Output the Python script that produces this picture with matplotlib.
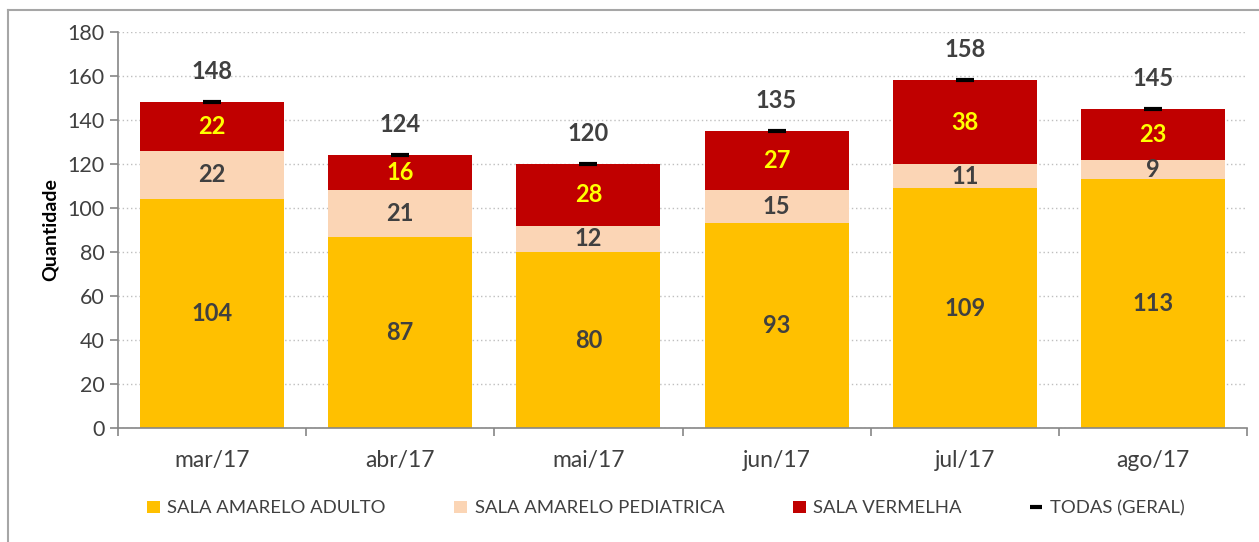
import matplotlib.pyplot as plt
from matplotlib.lines import Line2D

plt.rcParams['font.family'] = ['Lato', 'DejaVu Sans']

months = ['mar/17', 'abr/17', 'mai/17', 'jun/17', 'jul/17', 'ago/17']
adulto = [104, 87, 80, 93, 109, 113]
pediatrica = [22, 21, 12, 15, 11, 9]
vermelha = [22, 16, 28, 27, 38, 23]
geral = [148, 124, 120, 135, 158, 145]

c_adulto = '#FFC000'
c_ped = '#FBD5B5'
c_verm = '#C00000'
txt = '#404040'

fig = plt.figure(figsize=(12.59, 5.42), dpi=100)
ax = fig.add_axes([0.0937, 0.2103, 0.8968, 0.7307])

x = list(range(len(months)))
w = 0.766
b1 = ax.bar(x, adulto, w, color=c_adulto, label='SALA AMARELO ADULTO', zorder=2)
bottom2 = adulto
b2 = ax.bar(x, pediatrica, w, bottom=bottom2, color=c_ped, label='SALA AMARELO PEDIATRICA', zorder=2)
bottom3 = [a + p for a, p in zip(adulto, pediatrica)]
b3 = ax.bar(x, vermelha, w, bottom=bottom3, color=c_verm, label='SALA VERMELHA', zorder=2)
ax.plot(x, geral, linestyle='none', marker='_', markersize=13, mew=3, color='black',
        label='TODAS (GERAL)', zorder=3)

for i in x:
    ax.text(i, adulto[i] / 2, str(adulto[i]), ha='center', va='center',
            fontsize=17, fontweight='bold', color=txt, zorder=4)
    ax.text(i, adulto[i] + pediatrica[i] / 2, str(pediatrica[i]), ha='center', va='center',
            fontsize=17, fontweight='bold', color=txt, zorder=4)
    ax.text(i, bottom3[i] + vermelha[i] / 2, str(vermelha[i]), ha='center', va='center',
            fontsize=17, fontweight='bold', color='#FFFF00', zorder=4)
    ax.annotate(str(geral[i]), (i, geral[i]), xytext=(0, 22), textcoords='offset points',
                ha='center', va='center', fontsize=17, fontweight='bold', color=txt)

ax.set_xlim(-0.5, len(months) - 0.5)
ax.set_ylim(0, 180)
ax.set_yticks(range(0, 181, 20))
ax.set_xticks(x)
ax.set_xticklabels(months, fontsize=16.5, color=txt)
ax.set_xticks([i - 0.5 for i in range(len(months) + 1)], minor=True)
ax.tick_params(axis='x', which='major', length=0, pad=16)
ax.tick_params(axis='x', which='minor', length=6, color='#868686', width=1.2)
ax.tick_params(axis='y', length=6, color='#868686', width=1.2, labelsize=15.5, labelcolor=txt)
ax.set_ylabel('Quantidade', fontsize=14, fontweight='bold', color='black', labelpad=6)

ax.grid(axis='y', linestyle=(0, (1, 2)), color='#BFBFBF', linewidth=1, zorder=0)
for s in ['top', 'right']:
    ax.spines[s].set_visible(False)
for s in ['left', 'bottom']:
    ax.spines[s].set_color('#868686')
    ax.spines[s].set_linewidth(1.2)

handles = [b1, b2, b3,
           Line2D([], [], linestyle='none', marker='_', markersize=9, mew=3, color='black')]
labels = ['SALA AMARELO ADULTO', 'SALA AMARELO PEDIATRICA', 'SALA VERMELHA', 'TODAS (GERAL)']
fig.legend(handles, labels, loc='center', bbox_to_anchor=(0.529, 0.062), ncol=4,
           frameon=False, fontsize=13.3, labelcolor=txt, handlelength=0.7, handleheight=0.7,
           handletextpad=0.4, columnspacing=3.7)

fig.add_artist(Line2D([8 / 1259, 8 / 1259], [0, 1 - 10 / 542], color='#A6A6A6', lw=1.5,
                      transform=fig.transFigure))
fig.add_artist(Line2D([8 / 1259, 1], [1 - 10 / 542, 1 - 10 / 542], color='#A6A6A6', lw=1.5,
                      transform=fig.transFigure))

fig.savefig('out.png', dpi=100)
